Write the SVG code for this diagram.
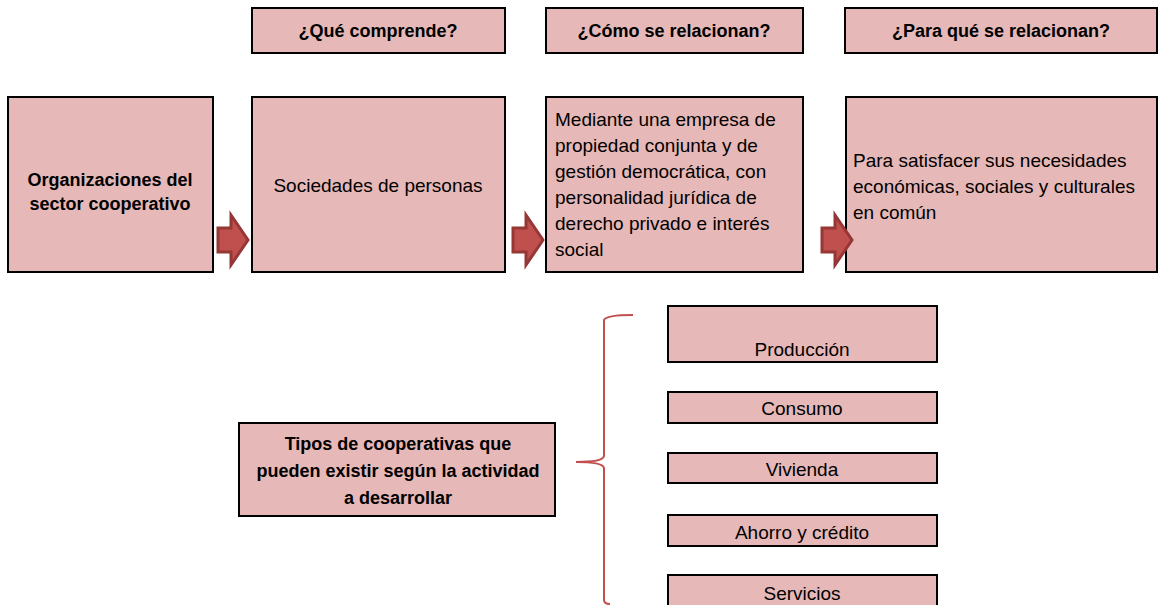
<svg xmlns="http://www.w3.org/2000/svg" width="1159" height="605" viewBox="0 0 1159 605">
<defs>
<style>
.box{fill:#e6b8b7;stroke:#000;stroke-width:2}
.b{font-family:"Liberation Sans",Arial,sans-serif;font-weight:bold;font-size:18px;fill:#000;text-anchor:middle}
.r{font-family:"Liberation Sans",Arial,sans-serif;font-size:19px;fill:#000}
.c{text-anchor:middle}
.arrow{fill:#c0504d;stroke:#953735;stroke-width:3;stroke-linejoin:miter}
.brace{fill:none;stroke:#c0504d;stroke-width:2}
</style>
<polygon id="arr" points="0,13 13,13 13,0 30,25 13,50 13,37 0,37" class="arrow"/>
</defs>
<rect width="1159" height="605" fill="#fff"/>
<g id="h1"><rect class="box" x="252" y="8" width="253" height="45"/><text class="b" x="378" y="37">¿Qué comprende?</text></g>
<g id="h2"><rect class="box" x="546" y="8" width="257" height="45"/><text class="b" x="674" y="37">¿Cómo se relacionan?</text></g>
<g id="h3"><rect class="box" x="845" y="8" width="312" height="45"/><text class="b" x="1001" y="37">¿Para qué se relacionan?</text></g>
<g id="n1"><rect class="box" x="8" y="97" width="205" height="175"/><text class="b" x="110" y="186">Organizaciones del</text><text class="b" x="110" y="210">sector cooperativo</text></g>
<g id="n2"><rect class="box" x="252" y="97" width="253" height="175"/><text class="r c" x="378" y="192">Sociedades de personas</text></g>
<g id="n3"><rect class="box" x="546" y="97" width="257" height="175"/>
<text class="r" x="555" y="126">Mediante una empresa de</text>
<text class="r" x="555" y="152">propiedad conjunta y de</text>
<text class="r" x="555" y="178">gestión democrática, con</text>
<text class="r" x="555" y="204">personalidad jurídica de</text>
<text class="r" x="555" y="230">derecho privado e interés</text>
<text class="r" x="555" y="256">social</text></g>
<g id="n4"><rect class="box" x="846" y="97" width="311" height="175"/>
<text class="r" x="853" y="167">Para satisfacer sus necesidades</text>
<text class="r" x="853" y="193">económicas, sociales y culturales</text>
<text class="r" x="853" y="219">en común</text></g>
<g id="n5"><rect class="box" x="239" y="423" width="316" height="93"/>
<text class="b" x="398" y="450">Tipos de cooperativas que</text>
<text class="b" x="398" y="477">pueden existir según la actividad</text>
<text class="b" x="398" y="504">a desarrollar</text></g>
<g id="t1"><rect class="box" x="668" y="306" width="269" height="56"/><text class="r c" x="802" y="356">Producción</text></g>
<g id="t2"><rect class="box" x="668" y="392" width="269" height="31"/><text class="r c" x="802" y="415">Consumo</text></g>
<g id="t3"><rect class="box" x="668" y="453" width="269" height="30"/><text class="r c" x="802" y="476">Vivienda</text></g>
<g id="t4"><rect class="box" x="668" y="515" width="269" height="31"/><text class="r c" x="802" y="539">Ahorro y crédito</text></g>
<g id="t5"><rect class="box" x="668" y="575" width="269" height="40"/><text class="r c" x="802" y="600">Servicios</text></g>
<g id="connectors">
<use href="#arr" x="218" y="215"/>
<use href="#arr" x="513" y="215"/>
<use href="#arr" x="822" y="215"/>
<path class="brace" d="M633,315 Q606,315 604,320 L604,456 Q603,462 576,462 Q603,462 604,468 L604,600 Q604,604 610,604"/>
</g>
</svg>
